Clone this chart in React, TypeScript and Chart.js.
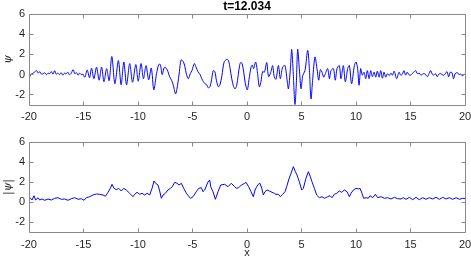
import React, { useEffect, useRef } from 'react';
import { Chart, registerables } from 'chart.js';

Chart.register(...registerables);

const xTicks = [-20, -15, -10, -5, 0, 5, 10, 15, 20];
const yTicks = [-2, 0, 2, 4, 6];
const titleText = 't=12.034';
const psiLabel = 'ψ';
const absLabel = '|ψ|';
const xLabel = 'x';

// ψ(x)
const psiX = [
  -20.0, -19.85, -19.7, -19.55, -19.3, -19.15, -19.0, -18.85, -18.7, -18.55, -18.4, -18.25, -18.1, -17.95, -17.8, -17.65,
  -17.5, -17.35, -17.2, -17.05, -16.9, -16.75, -16.6, -16.45, -16.3, -16.15, -15.95, -15.8, -15.65, -15.5, -15.35, -15.2,
  -15.05, -14.88, -14.66, -14.45, -14.26, -14.05, -13.8, -13.57, -13.34, -13.12, -12.88, -12.65, -12.4, -12.12, -11.8, -11.55,
  -11.3, -11.05, -10.76, -10.5, -10.2, -9.98, -9.72, -9.5, -9.26, -9.02, -8.78, -8.55, -8.3, -8.1, -7.95, -7.78,
  -7.6, -7.42, -7.25, -7.1, -6.9, -6.75, -6.55, -6.38, -6.2, -6.05, -5.85, -5.7, -5.55, -5.38, -5.2, -5.05,
  -4.83, -4.68, -4.5, -4.3, -4.15, -4.0, -3.85, -3.7, -3.55, -3.4, -3.25, -3.1, -2.95, -2.8, -2.63, -2.48,
  -2.3, -2.1, -1.87, -1.7, -1.55, -1.4, -1.25, -1.1, -0.95, -0.8, -0.68, -0.58, -0.45, -0.3, -0.15, 0.03,
  0.18, 0.37, 0.5, 0.6, 0.8, 0.95, 1.13, 1.28, 1.43, 1.6, 1.81, 1.98, 2.2, 2.35, 2.5, 2.66,
  2.88, 3.06, 3.27, 3.48, 3.64, 3.8, 3.98, 4.1, 4.25, 4.4, 4.52, 4.65, 4.8, 4.96, 5.11, 5.32,
  5.57, 5.72, 5.87, 6.03, 6.24, 6.42, 6.58, 6.73, 6.88, 7.04, 7.19, 7.4, 7.56, 7.71, 7.93, 8.1,
  8.26, 8.47, 8.62, 8.84, 9.02, 9.24, 9.39, 9.6, 9.85, 10.0, 10.15, 10.28, 10.43, 10.58, 10.74, 10.89,
  11.04, 11.2, 11.35, 11.5, 11.66, 11.81, 11.96, 12.12, 12.27, 12.42, 12.57, 12.73, 12.88, 13.05, 13.2, 13.35,
  13.5, 13.73, 13.95, 14.1, 14.25, 14.4, 14.55, 14.7, 14.85, 15.0, 15.15, 15.3, 15.47, 15.63, 15.8, 15.95,
  16.1, 16.25, 16.4, 16.55, 16.7, 16.85, 17.0, 17.15, 17.3, 17.45, 17.6, 17.75, 17.9, 18.05, 18.2, 18.35,
  18.5, 18.65, 18.8, 18.95, 19.1, 19.3, 19.45, 19.6, 19.75, 19.9, 20.0,
];
const psiY = [
  -0.4, 0.0, 0.1, 0.2, 0.4, 0.15, 0.3, 0.05, 0.1, 0.2, 0.0, 0.15, 0.1, 0.3, 0.05, 0.4,
  0.05, 0.15, 0.0, 0.2, -0.05, 0.15, 0.05, 0.25, 0.0, 0.1, 0.5, 0.1, 0.2, -0.05, 0.15, 0.0,
  0.05, -0.25, 0.45, -0.3, 0.65, -0.4, 0.75, -0.55, 0.75, -0.7, 0.6, -0.6, 1.8, -0.9, 1.4, -1.0,
  1.25, -1.0, 1.1, -0.75, 1.0, -0.65, 1.1, -0.4, 0.9, -0.5, 0.65, -1.5, 0.1, 1.0, 1.0, 0.0,
  0.7, 0.65, 0.3, -0.2, -0.6, -1.1, -1.9, -1.1, 0.3, 1.45, 1.3, 0.8, 0.0, -0.4, 0.1, 0.4,
  1.1, 0.75, 0.3, 0.0, -0.4, -0.7, -0.9, -1.0, -1.3, -1.2, -0.5, 0.4, 0.3, -0.6, -1.2, -1.0,
  -0.1, 1.25, 1.5, 1.4, 0.6, -0.4, -1.1, -1.4, -1.1, 0.0, 0.9, 1.2, 1.1, 0.25, -0.9, -1.5,
  -0.5, 0.75, 0.95, 0.6, 1.25, 0.3, -1.2, -0.7, 0.3, 0.25, 1.2, -0.2, 0.3, 0.9, -0.2, -0.45,
  0.9, -0.4, 0.75, 0.9, -0.2, -1.4, 0.6, 2.5, 0.0, -2.95, -1.0, 2.5, 0.6, -1.4, -0.1, 0.4,
  2.4, 0.6, -2.4, -0.4, 1.75, 0.6, -0.55, 0.5, 0.25, -0.25, 0.1, 0.6, -0.4, 0.4, 0.6, -0.55,
  0.6, 0.9, -0.4, 0.9, -0.7, 0.6, 0.9, -0.9, 0.9, 1.25, 0.6, -1.05, 0.6, -0.05, 0.25, -0.4,
  0.4, -0.4, 0.4, -0.2, 0.25, -0.25, 0.35, -0.25, 0.4, -0.35, 0.25, -0.25, 0.1, -0.1, 0.15, -0.05,
  0.35, -0.4, 0.25, -0.05, 0.05, 0.4, -0.05, 0.25, 0.0, -0.05, 0.1, 0.25, 0.4, 0.1, 0.15, -0.05,
  0.05, 0.1, 0.0, -0.2, 0.1, 0.4, 0.05, -0.05, 0.1, -0.2, 0.05, 0.1, 0.0, -0.05, 0.1, 0.3,
  -0.2, 0.25, 0.2, -0.4, 0.1, 0.2, 0.0, 0.05, -0.1, 0.0, 0.05,
];

// |ψ(x)|
const absX = [
  -20.0, -19.85, -19.72, -19.54, -19.39, -19.17, -19.02, -18.8, -18.56, -18.26, -17.95, -17.64, -17.34, -17.03, -16.73, -16.42,
  -16.12, -15.81, -15.5, -15.2, -14.95, -14.74, -14.43, -14.13, -13.82, -13.52, -13.21, -12.99, -12.75, -12.54, -12.38, -12.2,
  -11.99, -11.77, -11.53, -11.31, -11.07, -10.76, -10.46, -10.3, -10.09, -9.85, -9.63, -9.39, -9.17, -8.93, -8.71, -8.53,
  -8.38, -8.16, -8.01, -7.86, -7.7, -7.49, -7.25, -7.03, -6.85, -6.63, -6.42, -6.24, -6.02, -5.81, -5.56, -5.32,
  -5.17, -4.95, -4.65, -4.43, -4.19, -4.04, -3.88, -3.58, -3.42, -3.33, -3.12, -2.9, -2.66, -2.41, -2.05, -1.74,
  -1.44, -1.13, -0.98, -0.76, -0.52, -0.21, -0.09, 0.15, 0.37, 0.58, 0.74, 0.89, 1.04, 1.19, 1.35, 1.5,
  1.65, 1.84, 2.05, 2.3, 2.51, 2.66, 2.88, 3.06, 3.27, 3.49, 3.64, 3.82, 4.04, 4.25, 4.44, 4.59,
  4.8, 5.02, 5.17, 5.41, 5.63, 5.81, 5.96, 6.18, 6.39, 6.64, 6.88, 7.1, 7.4, 7.62, 7.8, 8.01,
  8.23, 8.47, 8.69, 8.93, 9.18, 9.39, 9.54, 9.76, 10.0, 10.22, 10.37, 10.55, 10.7, 10.92, 11.13, 11.29,
  11.53, 11.78, 11.99, 12.3, 12.6, 12.91, 13.21, 13.52, 13.82, 14.13, 14.34, 14.59, 14.9, 15.2, 15.51, 15.81,
  16.12, 16.42, 16.73, 17.04, 17.34, 17.65, 17.95, 18.26, 18.56, 18.87, 19.18, 19.48, 19.79, 20.0,
];
const absY = [
  0.53, 0.37, 0.2, 0.63, 0.2, 0.43, 0.2, 0.3, 0.17, 0.3, 0.2, 0.37, 0.43, 0.27, 0.3, 0.17,
  0.33, 0.43, 0.27, 0.33, 0.17, 0.43, 0.53, 0.7, 0.8, 0.77, 0.7, 0.57, 0.97, 1.37, 1.77, 1.37,
  1.23, 1.37, 1.1, 1.37, 1.2, 0.87, 0.53, 0.77, 0.97, 0.77, 0.87, 0.7, 0.87, 0.7, 1.37, 2.1,
  1.87, 1.7, 1.1, 0.37, 0.7, 0.87, 1.2, 1.37, 1.53, 1.97, 1.87, 1.7, 1.87, 1.37, 0.87, 0.53,
  0.37, 0.53, 1.03, 1.37, 1.43, 1.03, 1.2, 2.0, 2.2, 1.53, 1.03, 0.27, 1.03, 1.7, 1.77, 1.53,
  1.87, 1.53, 1.37, 1.43, 1.7, 1.87, 1.97, 1.53, 1.03, 0.53, 1.2, 1.53, 1.77, 1.87, 1.37, 0.7,
  1.03, 1.2, 1.1, 0.97, 0.87, 0.77, 0.77, 0.53, 0.77, 1.03, 1.53, 2.2, 2.87, 3.53, 3.03, 2.7,
  2.03, 1.2, 1.37, 2.37, 3.03, 2.53, 2.03, 1.37, 0.7, 0.43, 0.53, 0.37, 0.53, 0.63, 0.43, 0.77,
  0.87, 1.1, 0.97, 1.2, 1.03, 0.53, 0.87, 1.2, 1.37, 1.3, 1.37, 0.87, 0.37, 0.43, 0.37, 0.63,
  0.43, 0.77, 0.43, 0.53, 0.37, 0.43, 0.3, 0.47, 0.33, 0.3, 0.43, 0.27, 0.47, 0.23, 0.47, 0.23,
  0.43, 0.27, 0.43, 0.3, 0.47, 0.27, 0.47, 0.3, 0.43, 0.27, 0.43, 0.27, 0.37, 0.33,
];

const AXIS_GRAY = '#8a8a8a';
const TEXT_COLOR = '#262626';
const LINE_COLOR = 'rgb(0,0,255)';
const SANS = '"Liberation Sans", Arial, Helvetica, sans-serif';
const SERIF = '"DejaVu Serif", "Liberation Serif", serif';

const boxPlugin = {
  id: 'matlabBox',
  afterDatasetsDraw(chart: any) {
    const { ctx, chartArea: a, scales } = chart;
    const L = Math.floor(a.left) + 0.5;
    const R = Math.floor(a.right) + 0.5;
    const T = Math.floor(a.top) + 0.5;
    const B = Math.floor(a.bottom) + 0.5;
    const tl = 4;
    ctx.save();
    ctx.strokeStyle = AXIS_GRAY;
    ctx.lineWidth = 1;
    ctx.beginPath();
    ctx.rect(L, T, R - L, B - T);
    xTicks.forEach((v) => {
      const p = Math.floor(scales.x.getPixelForValue(v)) + 0.5;
      ctx.moveTo(p, B);
      ctx.lineTo(p, B - tl);
      ctx.moveTo(p, T);
      ctx.lineTo(p, T + tl);
    });
    yTicks.forEach((v) => {
      const p = Math.floor(scales.y.getPixelForValue(v)) + 0.5;
      ctx.moveTo(L, p);
      ctx.lineTo(L + tl, p);
      ctx.moveTo(R, p);
      ctx.lineTo(R - tl, p);
    });
    ctx.stroke();
    ctx.restore();
  },
};

function makeConfig(o: {
  xs: number[];
  ys: number[];
  yLabel: string;
  title: boolean;
  showXLabel: boolean;
  padTop: number;
  xAxisHeight: number;
  tickPad: number;
  tension: number;
}): any {
  return {
    type: 'line',
    data: {
      datasets: [
        {
          data: o.xs.map((x, i) => ({ x, y: o.ys[i] })),
          borderColor: LINE_COLOR,
          borderWidth: 1,
          pointRadius: 0,
          fill: false,
          tension: o.tension,
        },
      ],
    },
    options: {
      responsive: false,
      maintainAspectRatio: false,
      animation: false,
      devicePixelRatio: 1,
      layout: { padding: { top: o.padTop, right: 6, bottom: 0, left: 0 } },
      plugins: {
        legend: { display: false },
        tooltip: { enabled: false },
        title: {
          display: o.title,
          text: titleText,
          fullSize: false,
          color: '#000',
          font: { family: SANS, size: 12, weight: 'bold', lineHeight: 14 / 12 },
          padding: 0,
        },
      },
      scales: {
        x: {
          type: 'linear',
          min: -20,
          max: 20,
          afterBuildTicks: (s: any) => {
            s.ticks = xTicks.map((v) => ({ value: v }));
          },
          afterFit: (s: any) => {
            s.height = o.xAxisHeight;
            s.paddingLeft = 0;
            s.paddingRight = 0;
          },
          grid: { display: false, drawTicks: false },
          border: { display: false },
          ticks: {
            color: TEXT_COLOR,
            font: { family: SANS, size: 11 },
            padding: o.tickPad,
            maxRotation: 0,
            autoSkip: false,
            callback: (v: any) => String(v),
          },
          title: {
            display: o.showXLabel,
            text: xLabel,
            color: TEXT_COLOR,
            font: { family: SANS, size: 11, lineHeight: 1 },
            padding: { top: 0, bottom: 0 },
          },
        },
        y: {
          type: 'linear',
          min: -3,
          max: 6,
          afterBuildTicks: (s: any) => {
            s.ticks = yTicks.map((v) => ({ value: v }));
          },
          afterFit: (s: any) => {
            s.width = 29;
            s.paddingTop = 0;
            s.paddingBottom = 0;
          },
          grid: { display: false, drawTicks: false },
          border: { display: false },
          ticks: {
            color: TEXT_COLOR,
            font: { family: SANS, size: 11 },
            padding: 4,
            callback: (v: any) => String(v),
          },
          title: {
            display: true,
            text: o.yLabel,
            color: TEXT_COLOR,
            font: { family: SERIF, size: 11, style: 'italic', lineHeight: 1.2 },
            padding: { top: 2, bottom: 0 },
          },
        },
      },
    },
    plugins: [boxPlugin],
  };
}

export default function App() {
  const topRef = useRef<HTMLCanvasElement>(null);
  const botRef = useRef<HTMLCanvasElement>(null);

  useEffect(() => {
    const c1 = new Chart(
      topRef.current as HTMLCanvasElement,
      makeConfig({
        xs: psiX,
        ys: psiY,
        yLabel: psiLabel,
        title: true,
        showXLabel: false,
        padTop: 0,
        xAxisHeight: 25,
        tickPad: 5,
        tension: 0.3,
      })
    );
    const c2 = new Chart(
      botRef.current as HTMLCanvasElement,
      makeConfig({
        xs: absX,
        ys: absY,
        yLabel: absLabel,
        title: false,
        showXLabel: true,
        padTop: 14,
        xAxisHeight: 26,
        tickPad: 6,
        tension: 0,
      })
    );
    return () => {
      c1.destroy();
      c2.destroy();
    };
  }, []);

  return (
    <div style={{ position: 'absolute', left: 0, top: 0, width: 471, height: 258, background: '#fff' }}>
      <canvas ref={topRef} width={471} height={130} style={{ position: 'absolute', left: 0, top: 0 }} />
      <canvas ref={botRef} width={471} height={130} style={{ position: 'absolute', left: 0, top: 128 }} />
    </div>
  );
}
